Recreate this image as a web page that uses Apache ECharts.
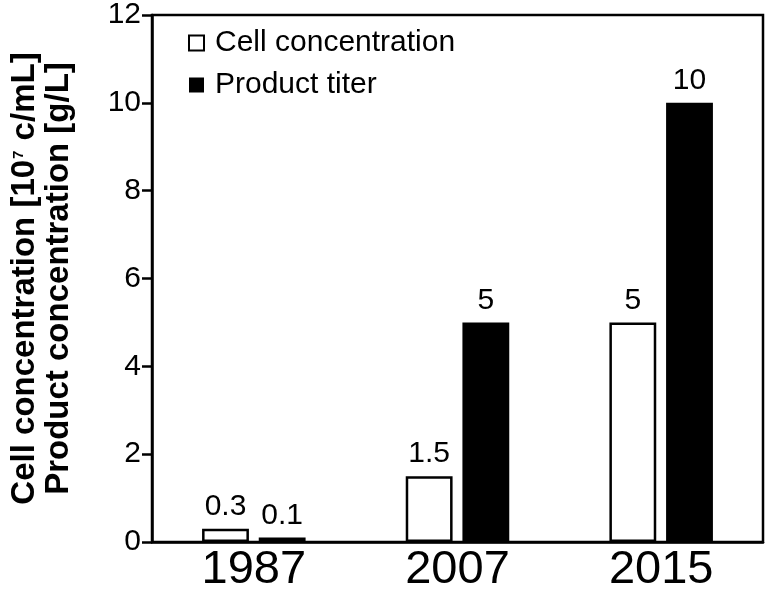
<!DOCTYPE html>
<html>
<head>
<meta charset="utf-8">
<script src="https://cdn.jsdelivr.net/npm/echarts@6/dist/echarts.min.js"></script>
<style>html,body{margin:0;padding:0;background:#fff}#c{width:767px;height:594px}</style>
</head>
<body>
<div id="c"></div>
<script>
const categories = ['1987', '2007', '2015'];
const cellConcentration = [0.3, 1.5, 5];
const productTiter = [0.1, 5, 10];
const seriesNames = ['Cell concentration', 'Product titer'];
const yTicks = { min: 0, max: 12, interval: 2 };

const FONT = '"Liberation Sans", Arial, sans-serif';
const chart = echarts.init(document.getElementById('c'));
const labelStyle = { show: true, position: 'top', distance: 7, color: '#000', fontSize: 30, fontFamily: FONT };
chart.setOption({
  animation: false,
  backgroundColor: '#fff',
  grid: { left: 149, right: 4, top: 15, bottom: 49, show: true, borderColor: '#000', borderWidth: 2.5, backgroundColor: 'transparent' },
  legend: {
    orient: 'vertical', left: 183, top: 22, itemWidth: 15, itemHeight: 15, itemGap: 10,
    icon: 'rect',
    textStyle: { fontSize: 30, fontFamily: FONT, color: '#000', lineHeight: 32, padding: [0, 0, 0, 6] },
    data: seriesNames
  },
  xAxis: {
    type: 'category', data: categories,
    axisLine: { lineStyle: { color: '#000', width: 2.5 } },
    axisTick: { show: false },
    axisLabel: { color: '#000', fontSize: 47, fontFamily: FONT, margin: 5 }
  },
  yAxis: {
    type: 'value', min: yTicks.min, max: yTicks.max, interval: yTicks.interval,
    splitLine: { show: false },
    axisLine: { show: true, lineStyle: { color: '#000', width: 2.5 } },
    axisTick: { show: true, length: 10, lineStyle: { color: '#000', width: 2.5 } },
    axisLabel: { color: '#000', fontSize: 30, fontFamily: FONT, margin: 11 },
    name: '{a|Cell concentration [10}{s|7}{a| c/mL]}\n{a|Product concentration [g/L]}',
    nameLocation: 'middle', nameGap: 76,
    nameTextStyle: {
      align: 'center', lineHeight: 34,
      rich: {
        a: { fontSize: 33, fontWeight: 'bold', fontFamily: FONT, color: '#000', lineHeight: 34 },
        s: { fontSize: 15, fontWeight: 'bold', fontFamily: FONT, color: '#000', verticalAlign: 'top', lineHeight: 34, padding: [3, 1, 0, 1] }
      }
    }
  },
  series: [
    {
      name: seriesNames[0], type: 'bar', data: cellConcentration,
      barWidth: '23%', barGap: '21%',
      itemStyle: { color: '#fff', borderColor: '#000', borderWidth: 2.5 },
      label: labelStyle
    },
    {
      name: seriesNames[1], type: 'bar', data: productTiter,
      barWidth: '23%', barGap: '21%',
      itemStyle: { color: '#000', borderColor: '#000', borderWidth: 0 },
      label: labelStyle
    }
  ]
});
</script>
</body>
</html>
